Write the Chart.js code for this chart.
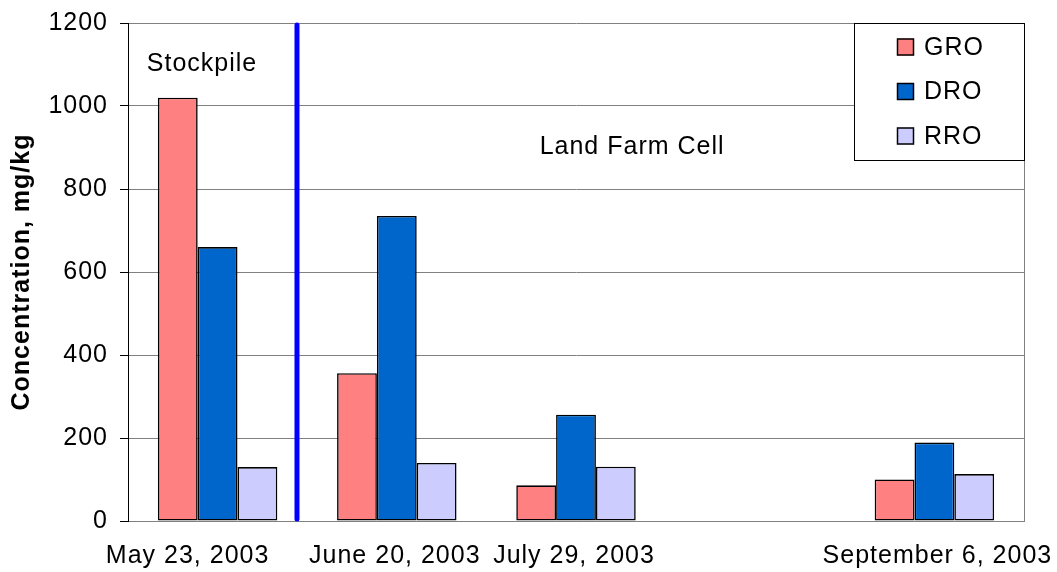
<!DOCTYPE html>
<html>
<head>
<meta charset="utf-8">
<script src="https://cdn.jsdelivr.net/npm/chart.js@4/dist/chart.umd.min.js"></script>
<style>
  html, body { margin: 0; padding: 0; background: #fff; }
  #wrap { width: 1057px; height: 572px; }
</style>
</head>
<body>
<div id="wrap"><canvas id="c" width="1057" height="572"></canvas></div>
<script>
// Sampling dates (the fourth slot is an empty gap on the time line)
const sampleDates = ['May 23, 2003', 'June 20, 2003', 'July 29, 2003', '', 'September 6, 2003'];

// Concentrations, mg/kg
const groValues = [1020, 356, 86, null, 100];
const droValues = [660, 735, 256, null, 189];
const rroValues = [130, 140, 131, null, 113];

const yTicks = [0, 200, 400, 600, 800, 1000, 1200];

const FONT = '"Liberation Sans", Arial, sans-serif';
Chart.defaults.font.family = FONT;
Chart.defaults.color = '#000';

// Annotations: divider between stockpile and land-farm samples, area labels,
// custom date labels, boxed legend and right frame line.
const decorations = {
  id: 'decorations',
  beforeDraw(chart) {
    chart.ctx.letterSpacing = '1px';
  },
  afterDatasetsDraw(chart) {
    const { ctx, chartArea: a, scales: { x, y } } = chart;
    const step = x.getPixelForValue(1) - x.getPixelForValue(0);
    ctx.save();
    // right frame
    ctx.strokeStyle = '#808080';
    ctx.lineWidth = 1;
    ctx.beginPath();
    ctx.moveTo(a.right + 0.5, a.top);
    ctx.lineTo(a.right + 0.5, a.bottom);
    ctx.stroke();
    // divider
    const dx = x.getPixelForValue(0) + 0.443 * step;
    ctx.strokeStyle = '#0000FF';
    ctx.lineWidth = 5;
    ctx.lineCap = 'round';
    ctx.beginPath();
    ctx.moveTo(dx, a.top + 2);
    ctx.lineTo(dx, a.bottom - 2);
    ctx.stroke();
    ctx.restore();
  },
  afterDraw(chart) {
    const { ctx, chartArea: a, scales: { x, y } } = chart;
    const step = x.getPixelForValue(1) - x.getPixelForValue(0);
    ctx.save();
    ctx.letterSpacing = '1px';
    ctx.fillStyle = '#000';
    ctx.font = '25px ' + FONT;
    ctx.textAlign = 'center';
    ctx.textBaseline = 'middle';
    ctx.fillText('Stockpile', x.getPixelForValue(0) - 0.087 * step, y.getPixelForValue(1100));
    ctx.fillText('Land Farm Cell', x.getPixelForValue(2) + 0.313 * step, y.getPixelForValue(900));

    // date labels under the axis; the first is nudged left, clear of the divider
    ctx.textBaseline = 'alphabetic';
    sampleDates.forEach((lbl, i) => {
      if (!lbl) return;
      const shift = i === 0 ? -30 : (i === 4 ? 3 : -2);
      ctx.fillText(lbl, x.getPixelForValue(i) + shift, a.bottom + 42);
    });

    // legend box in the top-right corner of the plot
    const w = 170, h = 137;
    const lx = a.right - w, ly = a.top;
    ctx.fillStyle = '#fff';
    ctx.fillRect(lx, ly, w, h);
    ctx.strokeStyle = '#000';
    ctx.lineWidth = 1;
    ctx.strokeRect(lx + 0.5, ly + 0.5, w, h);
    ctx.textAlign = 'left';
    ctx.textBaseline = 'middle';
    chart.data.datasets.forEach((ds, i) => {
      const cy = ly + 24 + i * 44.5;
      ctx.fillStyle = ds.backgroundColor;
      ctx.fillRect(lx + 43, cy - 8.5, 17, 17);
      ctx.strokeStyle = '#000';
      ctx.lineWidth = 1.5;
      ctx.strokeRect(lx + 43.5, cy - 8, 16, 16);
      ctx.fillStyle = '#000';
      ctx.fillText(ds.label, lx + 70, cy + 1);
    });
    ctx.restore();
  }
};

const barStyle = { borderColor: '#000', borderWidth: 1.6, borderSkipped: false };

new Chart(document.getElementById('c'), {
  type: 'bar',
  data: {
    labels: sampleDates,
    datasets: [
      { label: 'GRO', data: groValues, backgroundColor: '#FF8080', ...barStyle },
      { label: 'DRO', data: droValues, backgroundColor: '#0066CC', ...barStyle },
      { label: 'RRO', data: rroValues, backgroundColor: '#CCCCFF', ...barStyle }
    ]
  },
  options: {
    responsive: false,
    maintainAspectRatio: false,
    devicePixelRatio: 1,
    animation: false,
    categoryPercentage: 2 / 3,
    barPercentage: 1,
    layout: { padding: { top: 23, right: 33, left: 0, bottom: 0 } },
    plugins: {
      legend: { display: false },
      tooltip: { enabled: false }
    },
    scales: {
      x: {
        grid: { display: false },
        border: { color: '#808080', width: 1 },
        ticks: { display: false },
        afterFit(scale) { scale.height = 51; }
      },
      y: {
        min: 0,
        max: 1200,
        afterBuildTicks(scale) { scale.ticks = yTicks.map(v => ({ value: v })); },
        grid: { color: '#808080', lineWidth: 1, tickLength: 8, tickColor: '#000' },
        border: { color: '#000', width: 1 },
        ticks: { padding: 12, font: { size: 25 }, color: '#000', callback: v => String(v) },
        title: {
          display: true,
          text: 'Concentration, mg/kg',
          font: { size: 25, weight: 'bold' },
          color: '#000',
          padding: { top: 7, bottom: 4 }
        },
        afterFit(scale) {
          scale.width = 128;
          scale.paddingTop = 0;
          scale.paddingBottom = 0;
        }
      }
    }
  },
  plugins: [decorations]
});
</script>
</body>
</html>
